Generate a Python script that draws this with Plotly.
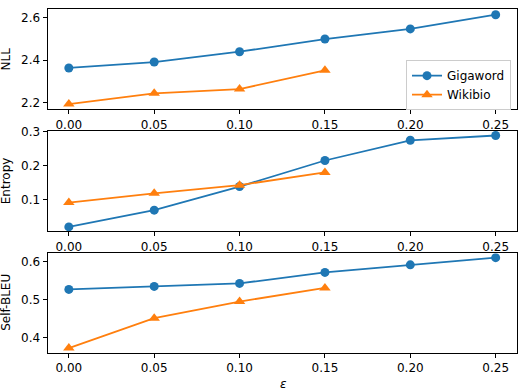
import plotly.graph_objects as go
from plotly.subplots import make_subplots

eps_giga = [0.00, 0.05, 0.10, 0.15, 0.20, 0.25]
eps_wiki = [0.00, 0.05, 0.10, 0.15]
nll_giga = [2.363, 2.391, 2.440, 2.500, 2.548, 2.615]
nll_wiki = [2.192, 2.243, 2.263, 2.352]
ent_giga = [0.021, 0.070, 0.139, 0.215, 0.274, 0.288]
ent_wiki = [0.092, 0.119, 0.143, 0.180]
bleu_giga = [0.527, 0.535, 0.543, 0.572, 0.592, 0.611]
bleu_wiki = [0.372, 0.451, 0.495, 0.531]
x_ticks = [0.00, 0.05, 0.10, 0.15, 0.20, 0.25]
x_ticklabels = ["0.00", "0.05", "0.10", "0.15", "0.20", "0.25"]
y_titles = ["NLL", "Entropy", "Self-BLEU"]

BLUE = "#1f77b4"
ORANGE = "#ff7f0e"
FONT = "DejaVu Sans"
FS = 12

W, H = 520, 390
fig = make_subplots(rows=3, cols=1)

panels = [
    (nll_giga, nll_wiki, [2.167, 2.640], [2.2, 2.4, 2.6], ["2.2", "2.4", "2.6"], (3.5, 105)),
    (ent_giga, ent_wiki, [0.0077, 0.301], [0.1, 0.2, 0.3], ["0.1", "0.2", "0.3"], (127, 229)),
    (bleu_giga, bleu_wiki, [0.360, 0.623], [0.4, 0.5, 0.6], ["0.4", "0.5", "0.6"], (251, 352)),
]

for i, (g, w, yr, yt, ytl, (top, bot)) in enumerate(panels):
    r = i + 1
    fig.add_trace(go.Scatter(x=eps_giga, y=g, mode="lines+markers", name="Gigaword",
                             line=dict(color=BLUE, width=1.8),
                             marker=dict(symbol="circle", size=9, color=BLUE),
                             showlegend=(i == 0)), row=r, col=1)
    fig.add_trace(go.Scatter(x=eps_wiki, y=w, mode="lines+markers", name="Wikibio",
                             line=dict(color=ORANGE, width=1.8),
                             marker=dict(symbol="triangle-up", size=10, color=ORANGE),
                             showlegend=(i == 0)), row=r, col=1)
    axis_common = dict(showline=True, linecolor="black", linewidth=1, mirror=True,
                       ticks="outside", ticklen=4, tickcolor="black", showgrid=False,
                       zeroline=False, tickfont=dict(family=FONT, size=FS, color="black"))
    fig.update_xaxes(range=[-0.0125, 0.2625], tickvals=x_ticks, ticktext=x_ticklabels,
                     domain=[47.5 / W, 517 / W], row=r, col=1, **axis_common)
    fig.update_yaxes(range=yr, tickvals=yt, ticktext=ytl,
                     domain=[1 - bot / H, 1 - top / H], row=r, col=1, **axis_common)
    fig.add_annotation(text=y_titles[i], xref="paper", yref="paper",
                       x=6 / W, y=1 - (top + bot) / 2 / H, textangle=-90,
                       showarrow=False, xanchor="center", yanchor="middle",
                       font=dict(family=FONT, size=FS, color="black"))

fig.add_annotation(text="<i>ε</i>", xref="paper", yref="paper", x=283 / W, y=1 - 384 / H,
                   showarrow=False, xanchor="center", yanchor="middle",
                   font=dict(family=FONT, size=FS, color="black"))

fig.update_layout(
    width=W, height=H, margin=dict(l=0, r=0, t=0, b=0),
    paper_bgcolor="white", plot_bgcolor="white",
    font=dict(family=FONT, size=FS, color="black"),
    legend=dict(x=511 / W, y=1 - 55 / H, xanchor="right", yanchor="top",
                bgcolor="rgba(255,255,255,0.8)", bordercolor="#cccccc", borderwidth=1,
                font=dict(family=FONT, size=FS, color="black"), itemwidth=30,
                tracegroupgap=0),
)

post = ("document.body.style.margin='0';document.body.style.padding='0';"
        "document.body.style.overflow='hidden';"
        "var gd=document.getElementById('{plot_id}');"
        "gd.style.position='absolute';gd.style.top='0px';gd.style.left='0px';")

fig.write_html("out.html", config={"displayModeBar": False}, post_script=post)
